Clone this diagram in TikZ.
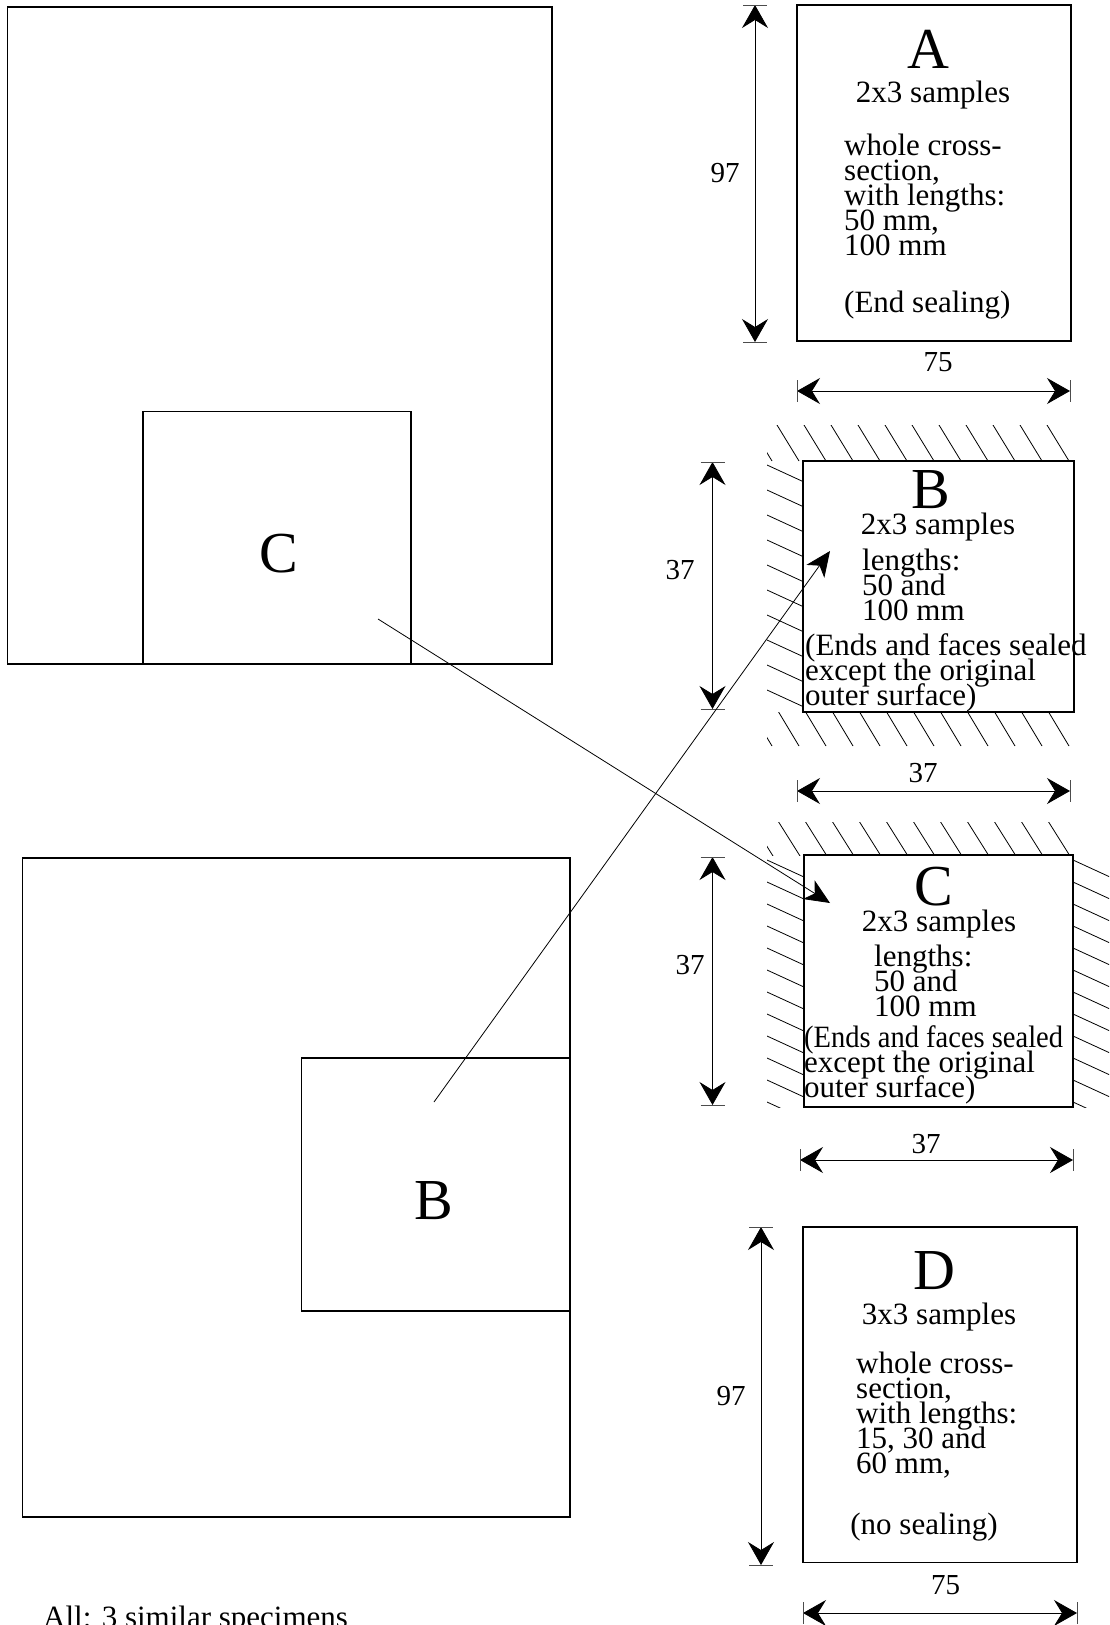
\documentclass[tikz,border=0pt]{standalone}
\usepackage{fontspec}
\usepackage{graphicx}
\setmainfont{Liberation Serif}
\usetikzlibrary{arrows.meta}
\setlength{\lineskiplimit}{-30pt}

\begin{document}
\begin{tikzpicture}[x=1pt, y=-1pt,
    box/.style={draw, line width=1.1pt, inner sep=0pt, outer sep=0pt},
    part/.style={draw, line width=1.3pt, inner sep=0pt, outer sep=0pt},
    txt/.style={font=\fontsize{31}{25}\selectfont, inner sep=0pt, align=left},
    big/.style={font=\fontsize{58}{58}\selectfont, inner sep=0pt},
    num/.style={font=\fontsize{29}{29}\selectfont, inner sep=0pt},
    dimline/.style={<->, >={Stealth[length=23pt,width=26pt,inset=8pt]}, line width=0.8pt},
    tick/.style={line width=0.8pt, black!70},
    link/.style={->, >={Stealth[length=25pt,width=22pt,inset=7pt]}, line width=0.8pt},
    hatch/.style={line width=0.8pt}]
    \useasboundingbox (0,0) rectangle (1109,1625);

    % Specimens
    \node[part, minimum width=544.5pt, minimum height=657pt] (specTop) at (279.75,335.5) {};
    \node[box, minimum width=268pt, minimum height=252.5pt] (cutC) at (277,537.75) {};
    \node[big, anchor=base] (labC) at (279,572) {C};
    \node[part, minimum width=547.5pt, minimum height=659pt] (specBot) at (296.25,1187.5) {};
    \node[box, minimum width=268.4pt, minimum height=253pt] (cutB) at (435.8,1184.5) {};
    \node[big, anchor=base] (labB) at (434,1219) {B};

    % Sealed faces
    \begin{scope}
        \clip (767,425) rectangle (1073,461);
        \foreach \x in {750,777,...,1048} \draw[hatch] (\x,425) -- ++(22,36);
    \end{scope}
    \begin{scope}
        \clip (767,461) rectangle (803,712);
        \foreach \y in {465,490,...,716} \draw[hatch] (767,\y) -- ++(37,17);
    \end{scope}
    \begin{scope}
        \clip (767,712) rectangle (1073,746);
        \foreach \x in {751,778,...,1049} \draw[hatch] (\x,711) -- ++(21,35);
    \end{scope}
    \begin{scope}
        \clip (767,822) rectangle (1073,855);
        \foreach \x in {751,778,...,1049} \draw[hatch] (\x,821) -- ++(22,35);
    \end{scope}
    \begin{scope}
        \clip (767,855) rectangle (804,1107);
        \foreach \y in {860,882,...,1104} \draw[hatch] (767,\y) -- ++(37,17);
    \end{scope}
    \begin{scope}
        \clip (1073,855) rectangle (1109,1107);
        \foreach \y in {860,882,...,1104} \draw[hatch] (1073,\y) -- ++(37,17);
    \end{scope}

    % Samples
    \node[box, minimum width=274pt, minimum height=336pt] (boxA) at (934,173) {};
    \node[box, minimum width=271pt, minimum height=251pt] (boxB) at (938.5,586.5) {};
    \node[box, minimum width=269pt, minimum height=252pt] (boxC) at (938.5,981) {};
    \node[box, minimum width=274pt, minimum height=335.5pt] (boxD) at (940,1394.75) {};

    % Texts
    \node[big, anchor=base] (letA) at (928,68) {A};
    \node[txt, anchor=base] (sampA) at (933,102) {2x3 samples};
    \node[txt, anchor=north west] (textA) at (844,134) {whole cross-\\section,\\with lengths:\\50 mm,\\100 mm};
    \node[txt, anchor=base west] (sealA) at (844,312) {(End sealing)};

    \node[big, anchor=base] (letB) at (931,508) {B};
    \node[txt, anchor=base] (sampB) at (938,534) {2x3 samples};
    \node[txt, anchor=north west] (lenB) at (862,549) {lengths:\\50 and\\100 mm};
    \node[txt, anchor=north west] (sealB) at (805,633) {(Ends and faces sealed\\except the original\\outer surface)};

    \node[big, anchor=base] (letC) at (934,905) {C};
    \node[txt, anchor=base] (sampC) at (939,931) {2x3 samples};
    \node[txt, anchor=north west] (lenC) at (874,945) {lengths:\\50 and\\100 mm};
    \node[txt, anchor=north west] (sealC) at (804,1025.5) {\scalebox{0.92}[1]{(Ends and faces sealed}\\except the original\\outer surface)};

    \node[big, anchor=base] (letD) at (934.5,1289) {D};
    \node[txt, anchor=base] (sampD) at (939,1324) {3x3 samples};
    \node[txt, anchor=north west] (textD) at (856,1352) {whole cross-\\section,\\with lengths:\\15, 30 and\\60 mm,};
    \node[txt, anchor=base] (sealD) at (924,1534) {(no sealing)};

    \node[txt, anchor=base west] (note) at (43,1627) {All: 3 similar specimens};

    % Dimensions
    \coordinate (aTop) at (755,5);
    \coordinate (aBot) at (755,342);
    \coordinate (aLeft) at (797,391);
    \coordinate (aRight) at (1070,391);
    \coordinate (bTop) at (712.5,462);
    \coordinate (bBot) at (712.5,709);
    \coordinate (bLeft) at (797,791);
    \coordinate (bRight) at (1070,791);
    \coordinate (cTop) at (712.5,857);
    \coordinate (cBot) at (712.5,1105);
    \coordinate (cLeft) at (800,1160);
    \coordinate (cRight) at (1073,1160);
    \coordinate (dTop) at (761,1227);
    \coordinate (dBot) at (761,1565);
    \coordinate (dLeft) at (803,1613);
    \coordinate (dRight) at (1077,1613);

    \draw[dimline] (aTop) -- (aBot);
    \draw[tick] (aTop) ++(-12,0) -- ++(24,0) (aBot) ++(-12,0) -- ++(24,0);
    \draw[dimline] (aLeft) -- (aRight);
    \draw[tick] (aLeft) ++(0,-11) -- ++(0,22) (aRight) ++(0,-11) -- ++(0,22);
    \draw[dimline] (bTop) -- (bBot);
    \draw[tick] (bTop) ++(-12,0) -- ++(24,0) (bBot) ++(-12,0) -- ++(24,0);
    \draw[dimline] (bLeft) -- (bRight);
    \draw[tick] (bLeft) ++(0,-11) -- ++(0,22) (bRight) ++(0,-11) -- ++(0,22);
    \draw[dimline] (cTop) -- (cBot);
    \draw[tick] (cTop) ++(-12,0) -- ++(24,0) (cBot) ++(-12,0) -- ++(24,0);
    \draw[dimline] (cLeft) -- (cRight);
    \draw[tick] (cLeft) ++(0,-11) -- ++(0,22) (cRight) ++(0,-11) -- ++(0,22);
    \draw[dimline] (dTop) -- (dBot);
    \draw[tick] (dTop) ++(-12,0) -- ++(24,0) (dBot) ++(-12,0) -- ++(24,0);
    \draw[dimline] (dLeft) -- (dRight);
    \draw[tick] (dLeft) ++(0,-11) -- ++(0,22) (dRight) ++(0,-11) -- ++(0,22);

    \node[num, anchor=base] (numA97) at (725,182) {97};
    \node[num, anchor=base] (numA75) at (938,371) {75};
    \node[num, anchor=base] (numB37v) at (680,579) {37};
    \node[num, anchor=base] (numB37h) at (923,782) {37};
    \node[num, anchor=base] (numC37v) at (690,974) {37};
    \node[num, anchor=base] (numC37h) at (926,1153) {37};
    \node[num, anchor=base] (numD97) at (731,1405) {97};
    \node[num, anchor=base] (numD75) at (945.5,1594) {75};

    % Links
    \coordinate (fromC) at (378,619);
    \coordinate (toC) at (830,903);
    \coordinate (fromB) at (434,1102);
    \coordinate (toB) at (830,551);
    \draw[link] (fromC) -- (toC);
    \draw[link] (fromB) -- (toB);
\end{tikzpicture}
\end{document}
